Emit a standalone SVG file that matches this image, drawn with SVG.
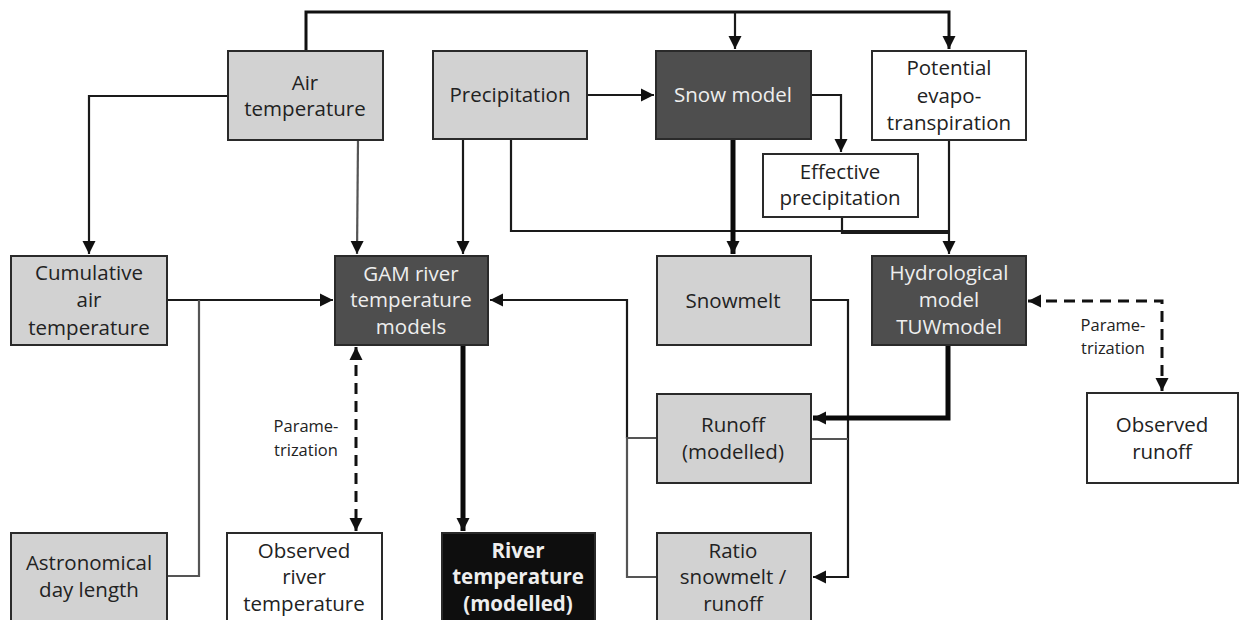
<svg xmlns="http://www.w3.org/2000/svg" width="1240" height="620" viewBox="0 0 1240 620">
<defs>
<marker id="ah" markerUnits="userSpaceOnUse" markerWidth="14" markerHeight="14" viewBox="0 0 14 14" refX="13" refY="7" orient="auto-start-reverse">
<path d="M0,0.5 L13,7 L0,13.5 z" fill="#111"/>
</marker>
</defs>
<style>
.box{stroke:#2a2a2a;stroke-width:2}
.grey{fill:#d2d2d2}
.dark{fill:#4e4e4e}
.black{fill:#0e0e0e}
.white{fill:#ffffff}
text{font-family:"Open Sans","Noto Sans","Liberation Sans",sans-serif;font-size:20.5px;text-anchor:middle}
.tdk{fill:#222}
.tlt{fill:#eeeeee}
.bold{font-weight:bold}
.small{font-size:16.5px;fill:#222}
.ln{fill:none;stroke:#1a1a1a;stroke-width:2.2}
.top{fill:none;stroke:#111;stroke-width:3}
.lg{fill:none;stroke:#555;stroke-width:2.2}
.thick{fill:none;stroke:#0a0a0a;stroke-width:5}
.dash{fill:none;stroke:#111;stroke-width:3;stroke-dasharray:11,7}
</style>
<rect width="1240" height="620" fill="#ffffff"/>
<g id="connectors">
<polyline class="top" points="306,51 306,12 949,12 949,49" marker-end="url(#ah)"/>
<line class="ln" x1="735" y1="12" x2="735" y2="49" marker-end="url(#ah)"/>
<polyline class="ln" points="228,96 89,96 89,254" marker-end="url(#ah)"/>
<line class="lg" x1="358" y1="140" x2="357" y2="254" marker-end="url(#ah)"/>
<line class="ln" x1="463" y1="139" x2="463" y2="254" marker-end="url(#ah)"/>
<line class="ln" x1="587" y1="95" x2="654" y2="95" marker-end="url(#ah)"/>
<polyline class="ln" points="811,95 841,95 841,152" marker-end="url(#ah)"/>
<polyline class="ln" points="511,139 511,231 949,231"/>
<polyline class="ln" points="842,217 842,233 949,233"/>
<line class="ln" x1="949" y1="140" x2="949" y2="254" marker-end="url(#ah)"/>
<line class="thick" x1="733" y1="139" x2="733" y2="254" marker-end="url(#ah)"/>
<line class="ln" x1="167" y1="300" x2="333" y2="300" marker-end="url(#ah)"/>
<polyline class="lg" points="167,576 199,576 199,300"/>
<polyline class="ln" points="627,438 627,300 490,300" marker-end="url(#ah)"/>
<polyline class="lg" points="657,438 627,438 627,577 657,577"/>
<polyline class="ln" points="811,300 848,300 848,577 813,577" marker-end="url(#ah)"/>
<line class="lg" x1="811" y1="439" x2="848" y2="439"/>
<polyline class="thick" points="948,345 948,418 813,418" marker-end="url(#ah)"/>
<line class="thick" x1="463" y1="345" x2="463" y2="531" marker-end="url(#ah)"/>
<polyline class="dash" points="1028,301 1162,301 1162,391" marker-start="url(#ah)" marker-end="url(#ah)"/>
<line class="dash" x1="356" y1="347" x2="356" y2="531" marker-start="url(#ah)" marker-end="url(#ah)"/>
<text class="small" x="1113" y="331">Parame-</text>
<text class="small" x="1113" y="354">trization</text>
<text class="small" x="306" y="432">Parame-</text>
<text class="small" x="306" y="456">trization</text>
</g>
<g id="air-temperature">
<rect class="box grey" x="228" y="51" width="155" height="89"/>
<text class="tdk" x="305" y="90">Air</text>
<text class="tdk" x="305" y="116">temperature</text>
</g>
<g id="precipitation">
<rect class="box grey" x="433" y="51" width="154" height="88"/>
<text class="tdk" x="510" y="102">Precipitation</text>
</g>
<g id="snow-model">
<rect class="box dark" x="656" y="51" width="155" height="88"/>
<text class="tlt" x="733" y="102">Snow model</text>
</g>
<g id="potential-evapotranspiration">
<rect class="box white" x="872" y="51" width="154" height="89"/>
<text class="tdk" x="949" y="75">Potential</text>
<text class="tdk" x="949" y="103">evapo-</text>
<text class="tdk" x="949" y="130">transpiration</text>
</g>
<g id="effective-precipitation">
<rect class="box white" x="763" y="154" width="155" height="63"/>
<text class="tdk" x="840" y="179">Effective</text>
<text class="tdk" x="840" y="205">precipitation</text>
</g>
<g id="cumulative-air-temperature">
<rect class="box grey" x="11" y="256" width="156" height="89"/>
<text class="tdk" x="89" y="280">Cumulative</text>
<text class="tdk" x="89" y="307">air</text>
<text class="tdk" x="89" y="335">temperature</text>
</g>
<g id="gam-models">
<rect class="box dark" x="335" y="256" width="153" height="89"/>
<text class="tlt" x="411" y="281">GAM river</text>
<text class="tlt" x="411" y="307">temperature</text>
<text class="tlt" x="411" y="334">models</text>
</g>
<g id="snowmelt">
<rect class="box grey" x="657" y="256" width="154" height="89"/>
<text class="tdk" x="733" y="308">Snowmelt</text>
</g>
<g id="hydrological-model">
<rect class="box dark" x="872" y="256" width="154" height="89"/>
<text class="tlt" x="949" y="280">Hydrological</text>
<text class="tlt" x="949" y="307">model</text>
<text class="tlt" x="949" y="334">TUWmodel</text>
</g>
<g id="observed-runoff">
<rect class="box white" x="1087" y="393" width="151" height="90"/>
<text class="tdk" x="1162" y="432">Observed</text>
<text class="tdk" x="1162" y="459">runoff</text>
</g>
<g id="runoff-modelled">
<rect class="box grey" x="657" y="394" width="154" height="89"/>
<text class="tdk" x="733" y="432">Runoff</text>
<text class="tdk" x="733" y="459">(modelled)</text>
</g>
<g id="astronomical-day-length">
<rect class="box grey" x="11" y="533" width="156" height="90"/>
<text class="tdk" x="89" y="570">Astronomical</text>
<text class="tdk" x="89" y="597">day length</text>
</g>
<g id="observed-river-temperature">
<rect class="box white" x="227" y="533" width="155" height="90"/>
<text class="tdk" x="304" y="558">Observed</text>
<text class="tdk" x="304" y="584">river</text>
<text class="tdk" x="304" y="611">temperature</text>
</g>
<g id="river-temperature-modelled">
<rect class="box black" x="442" y="533" width="153" height="90"/>
<text class="tlt bold" x="518" y="558">River</text>
<text class="tlt bold" x="518" y="584">temperature</text>
<text class="tlt bold" x="518" y="611">(modelled)</text>
</g>
<g id="ratio-snowmelt-runoff">
<rect class="box grey" x="657" y="533" width="154" height="90"/>
<text class="tdk" x="733" y="558">Ratio</text>
<text class="tdk" x="733" y="584">snowmelt /</text>
<text class="tdk" x="733" y="611">runoff</text>
</g>
</svg>
